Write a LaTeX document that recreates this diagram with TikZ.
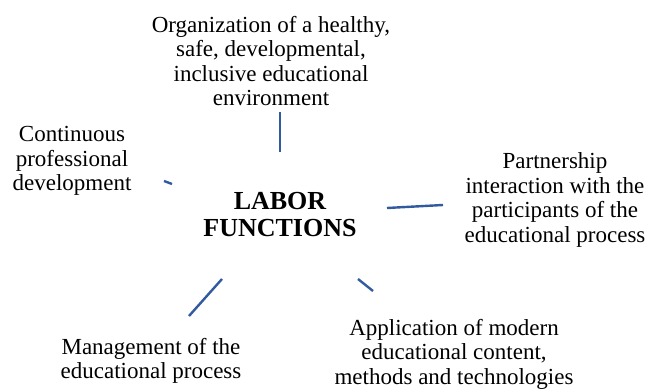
\documentclass[tikz,border=0pt]{standalone}
\usepackage{fontspec}
\setmainfont{Liberation Serif}
\definecolor{linkblue}{RGB}{50,90,160}
\begin{document}
\begin{tikzpicture}[x=1pt,y=-1pt,
  lbl/.style={align=center,inner sep=0pt,font=\fontsize{23}{24.5}\selectfont},
  hub/.style={align=center,inner sep=0pt,font=\fontsize{26}{27}\selectfont\bfseries},
  link/.style={draw=linkblue,line width=2.4pt}]
\useasboundingbox (0,0) rectangle (650,390);
\node[hub] (c) at (280,215) {LABOR\\FUNCTIONS};
\node[lbl] (top) at (271,61) {Organization of a healthy,\\safe, developmental,\\inclusive educational\\environment};
\node[lbl] (left) at (72,161) {Continuous\\professional\\development};
\node[lbl] (right) at (555,200) {Partnership\\interaction with the\\participants of the\\educational process};
\node[lbl] (bl) at (151,361) {Management of the\\educational process};
\node[lbl] (br) at (454,354) {Application of modern\\educational content,\hspace*{18pt}\\methods and technologies};
\coordinate (t1) at (280,152); \coordinate (t2) at (280,112);
\coordinate (l1) at (172,184); \coordinate (l2) at (164,181);
\coordinate (r1) at (387,208); \coordinate (r2) at (443,205);
\coordinate (b1) at (222,279); \coordinate (b2) at (189,316);
\coordinate (d1) at (358,279); \coordinate (d2) at (373,291);
\draw[link] (t1) -- (t2);
\draw[link] (l1) -- (l2);
\draw[link] (r1) -- (r2);
\draw[link] (b1) -- (b2);
\draw[link] (d1) -- (d2);
\end{tikzpicture}
\end{document}
